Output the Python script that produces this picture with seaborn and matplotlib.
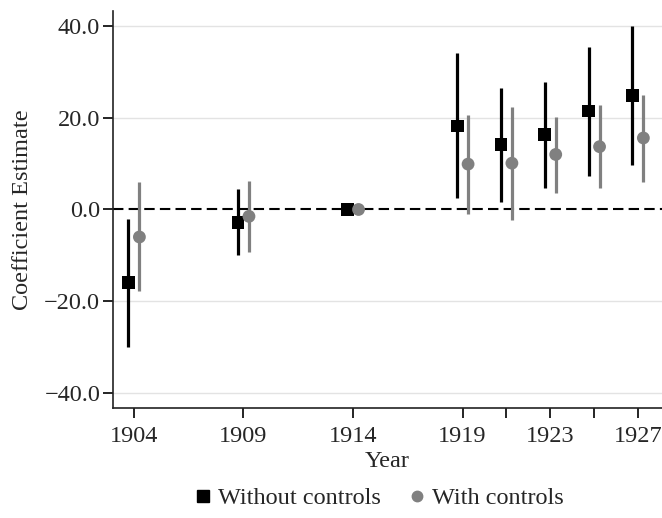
import matplotlib
matplotlib.use("Agg")
import matplotlib.pyplot as plt
import seaborn as sns
import pandas as pd
from matplotlib.lines import Line2D

years = [1904, 1909, 1914, 1919, 1921, 1923, 1925, 1927]
tick_labels = ["1904", "1909", "1914", "1919", "", "1923", "", "1927"]

no_ctrl_est = [-16.0, -2.8, 0.0, 18.2, 14.2, 16.3, 21.5, 24.8]
no_ctrl_lo = [-30.1, -10.0, 0.0, 2.4, 1.7, 4.7, 7.3, 9.7]
no_ctrl_hi = [-2.1, 4.4, 0.0, 34.2, 26.6, 27.8, 35.5, 40.0]

ctrl_est = [-6.0, -1.5, 0.0, 9.9, 10.1, 12.0, 13.7, 15.6]
ctrl_lo = [-17.8, -9.2, 0.0, -0.9, -2.3, 3.6, 4.7, 6.1]
ctrl_hi = [5.9, 6.2, 0.0, 20.7, 22.4, 20.2, 22.7, 24.9]

series_names = ["Without controls", "With controls"]
y_ticks = [-40, -20, 0, 20, 40]

sns.set_theme(style="white")
plt.rcParams["font.family"] = ["Liberation Serif", "DejaVu Serif"]
FS = 17.5
plt.rcParams["font.size"] = FS

BLACK = "#000000"
GRAY = "#808080"

rows = []
for i, y in enumerate(years):
    rows.append(dict(model=series_names[0], x=y - 0.25, est=no_ctrl_est[i],
                     lo=no_ctrl_lo[i], hi=no_ctrl_hi[i]))
    rows.append(dict(model=series_names[1], x=y + 0.25, est=ctrl_est[i],
                     lo=ctrl_lo[i], hi=ctrl_hi[i]))
df = pd.DataFrame(rows)

fig = plt.figure(figsize=(6.62, 5.18), dpi=100)
ax = fig.add_axes([0.1702, 0.2124, 0.8298, 0.7664])

# gridlines
for t in y_ticks:
    if t != 0:
        ax.axhline(t, color="#e3e3e3", lw=1.0, zorder=0)
ax.axhline(0, color="black", lw=1.5, ls=(0, (5, 2.5)), zorder=1)

colors = {series_names[0]: BLACK, series_names[1]: GRAY}
for name, sub in df.groupby("model"):
    sub = sub[sub["lo"] != sub["hi"]]
    ax.vlines(sub["x"], sub["lo"], sub["hi"], color=colors[name], lw=2.3, zorder=2)

sns.scatterplot(data=df, x="x", y="est", hue="model", style="model",
                hue_order=series_names, style_order=series_names,
                palette=colors, markers={series_names[0]: "s", series_names[1]: "o"},
                s=85, edgecolor="none", linewidth=0, legend=False,
                ax=ax, zorder=3)

ax.set_xlim(1903.03, 1928.1)
ax.set_ylim(-43.3, 43.3)
ax.set_xticks(years)
ax.set_xticklabels(tick_labels)
ax.set_yticks(y_ticks)
ax.set_yticklabels([f"{v:.1f}".replace("-", "\u2212") for v in y_ticks])
ax.tick_params(axis="both", direction="out", length=7, width=1.2, color="black",
               labelsize=FS, pad=2, bottom=True, left=True)
ax.tick_params(axis="x", pad=6)
for s in ["top", "right"]:
    ax.spines[s].set_visible(False)
for s in ["left", "bottom"]:
    ax.spines[s].set_color("#222222")
    ax.spines[s].set_linewidth(1.2)

ax.set_xlabel("Year", fontsize=FS, labelpad=3)
ax.set_ylabel("Coefficient Estimate", fontsize=FS, labelpad=8)

handles = [
    Line2D([], [], marker="s", color=BLACK, ls="none", markersize=8),
    Line2D([], [], marker="o", color=GRAY, ls="none", markersize=7.5),
]
fig.legend(handles, series_names, loc="center", bbox_to_anchor=(0.57, 0.038),
           ncol=2, frameon=False, fontsize=FS, handletextpad=0.1,
           columnspacing=1.0, handlelength=1.0)

fig.savefig("out.png", dpi=100)
